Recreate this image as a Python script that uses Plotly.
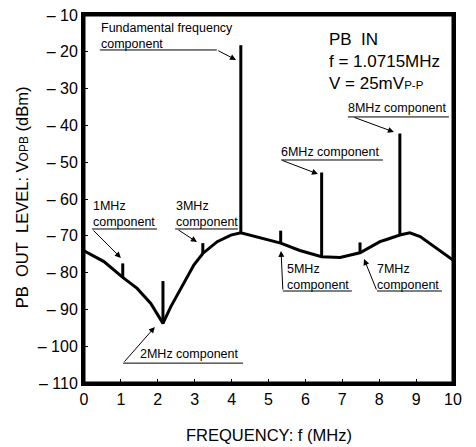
import plotly.graph_objects as go

# ---- data ----
curve_x = [0, 0.54, 1.05, 1.44, 1.81, 2.14, 2.35, 2.53, 2.71, 2.98, 3.22, 3.61, 3.98, 4.25,
           5.33, 5.85, 6.44, 6.94, 7.48, 8.02, 8.2, 8.56, 8.83, 9.11, 10]
curve_y = [-74.05, -77.0, -81.3, -84.3, -88.4, -93.8, -89.3, -86.1, -82.5, -77.9, -74.8, -71.6, -69.8, -69.2,
           -72.0, -74.0, -75.7, -75.9, -74.6, -71.6, -71.0, -69.8, -69.2, -70.2, -76.6]

spike_x = [1.05, 2.14, 3.22, 4.25, 5.33, 6.44, 7.48, 8.56]
spike_base = [-81.3, -93.8, -74.8, -69.2, -72.0, -75.7, -74.6, -69.8]
spike_top = [-77.5, -82.3, -72.0, -18.2, -68.6, -52.8, -71.8, -42.2]

x_ticks = [0, 1, 2, 3, 4, 5, 6, 7, 8, 9, 10]
x_labels = ["0", "1", "2", "3", "4", "5", "6", "7", "8", "9", "10"]
y_ticks = [-10, -20, -30, -40, -50, -60, -70, -80, -90, -100, -110]
y_labels = ["– 10", "– 20", "– 30", "– 40", "– 50", "– 60", "– 70", "– 80", "– 90", "– 100", "– 110"]

FONT = "Liberation Sans, Arial, Helvetica, sans-serif"

fig = go.Figure()
fig.add_trace(go.Scatter(x=curve_x, y=curve_y, mode="lines",
                         line=dict(color="black", width=3), hoverinfo="skip"))
sx, sy = [], []
for x, b, t in zip(spike_x, spike_base, spike_top):
    sx += [x, x, None]
    sy += [b, t, None]
fig.add_trace(go.Scatter(x=sx, y=sy, mode="lines",
                         line=dict(color="black", width=3), hoverinfo="skip"))

annotations = []
shapes = []

def text(x, y, s, size=12.5):
    annotations.append(dict(x=x, y=y, xref="x", yref="y", text=s, showarrow=False,
                            xanchor="left", yanchor="middle", align="left", borderpad=0,
                            font=dict(family=FONT, size=size, color="black")))

def uline(x0, x1, y):
    shapes.append(dict(type="line", xref="x", yref="y", x0=x0, x1=x1, y0=y, y1=y,
                       line=dict(color="black", width=1)))

def arrow(x0, y0, x1, y1):
    annotations.append(dict(x=x1, y=y1, ax=x0, ay=y0, xref="x", yref="y", axref="x", ayref="y",
                            text="", showarrow=True, arrowhead=2, arrowsize=1.2, arrowwidth=1,
                            arrowcolor="black", standoff=0, startstandoff=0))

# Fundamental
text(0.43, -15.8, "Fundamental frequency<br>component")
uline(0.43, 3.60, -19.5)
arrow(3.60, -19.5, 4.12, -22.2)
# 1MHz
text(0.217, -64.0, "1MHz<br>component")
uline(0.217, 1.98, -68.15)
arrow(0.217, -68.15, 1.0, -76.0)
# 3MHz
text(2.47, -64.0, "3MHz<br>component")
uline(2.47, 4.17, -68.15)
arrow(2.52, -68.15, 3.06, -71.7)
# 2MHz
text(1.50, -102.1, "2MHz component")
uline(1.06, 4.31, -104.6)
arrow(1.06, -104.6, 1.92, -94.8)
# 5MHz
text(5.48, -81.2, "5MHz<br>component")
uline(5.39, 7.26, -85.0)
arrow(5.39, -85.0, 5.34, -74.1)
# 7MHz
text(7.92, -81.2, "7MHz<br>component")
uline(7.94, 9.70, -85.0)
arrow(7.94, -85.0, 7.59, -76.3)
# 6MHz
text(5.32, -47.2, "6MHz component")
uline(5.34, 8.10, -49.4)
arrow(5.34, -49.4, 6.34, -53.2)
# 8MHz
text(7.13, -35.3, "8MHz component")
uline(7.15, 9.89, -37.7)
arrow(7.29, -37.7, 8.40, -41.8)
# Condition block
text(6.62, -22.6,
     "PB\u00a0\u00a0IN<br>f = 1.0715MHz<br>V = 25mV<span style='font-size:11.5px'>P-P</span>",
     size=17)

# frame
shapes.append(dict(type="rect", xref="paper", yref="paper", x0=0, x1=1, y0=0, y1=1,
                   line=dict(color="black", width=3), layer="above"))

# axis titles
annotations.append(dict(x=-0.168, y=0.505, xref="paper", yref="paper", textangle=-90,
                        text="PB\u00a0\u00a0OUT\u00a0\u00a0LEVEL: V<span style='font-size:12px'>OPB</span> (dBm)",
                        showarrow=False, xanchor="center", yanchor="middle",
                        font=dict(family=FONT, size=16.5, color="black")))
annotations.append(dict(x=0.5, y=-0.141, xref="paper", yref="paper",
                        text="FREQUENCY: f (MHz)", showarrow=False,
                        xanchor="center", yanchor="middle",
                        font=dict(family=FONT, size=16.5, color="black")))

# page has an 8px body margin; figure sized/margined to compensate
fig.update_layout(
    width=468, height=439,
    margin=dict(l=76, r=23, t=7, b=64, autoexpand=False),
    paper_bgcolor="white", plot_bgcolor="white",
    showlegend=False,
    annotations=annotations, shapes=shapes,
    font=dict(family=FONT, color="black"),
)
fig.update_xaxes(range=[0, 10], tickmode="array", tickvals=x_ticks, ticktext=x_labels,
                 showgrid=False, zeroline=False, showline=True, linecolor="black", linewidth=3,
                 mirror=True, ticks="inside", ticklen=4, tickwidth=1, tickcolor="black",
                 automargin=False, ticklabeloverflow="allow",
                 tickfont=dict(family=FONT, size=16, color="black"))
fig.update_yaxes(range=[-110, -10], tickmode="array", tickvals=y_ticks, ticktext=y_labels,
                 showgrid=False, zeroline=False, showline=True, linecolor="black", linewidth=3,
                 mirror=True, ticks="inside", ticklen=4, tickwidth=1, tickcolor="black",
                 automargin=False, ticklabeloverflow="allow",
                 tickfont=dict(family=FONT, size=16, color="black"))

fig.write_html("out.html")
